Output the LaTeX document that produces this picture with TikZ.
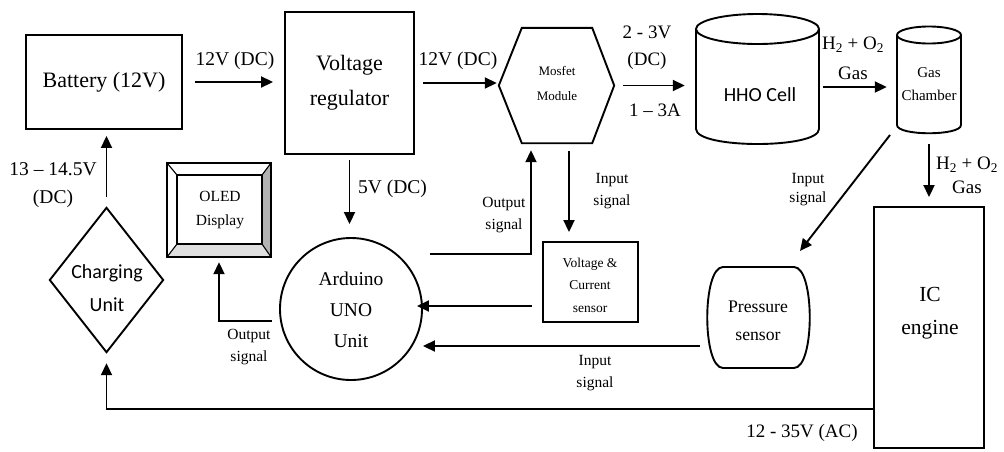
\documentclass[tikz,border=0pt]{standalone}
\usepackage{fontspec}
\setmainfont{Liberation Serif}
\newfontfamily\carl{Carlito}
\usetikzlibrary{arrows.meta,calc}
\newcommand\fsz[2]{\fontsize{#1}{#2}\selectfont}
\begin{document}
\begin{tikzpicture}[x=1pt,y=-1pt,
  box/.style={draw, line width=1.9pt, inner sep=0pt},
  ghost/.style={inner sep=0pt},
  arr/.style={line width=1.9pt, -{Triangle[length=12pt,width=11pt]}},
  ln/.style={line width=1.9pt},
  txt/.style={align=center, inner sep=0pt},
]
\useasboundingbox (0,0) rectangle (1004,451);

% Battery
\node[box, minimum width=156pt, minimum height=94pt, font=\fsz{22}{26}] (bat) at (104,82) {Battery (12V)};
% Voltage regulator
\node[box, minimum width=129pt, minimum height=142pt, align=center, font=\fsz{22}{35}] (vr) at (349.5,83) {Voltage\\regulator};

% Mosfet
\node[ghost, minimum width=115pt, minimum height=115pt] (mos) at (556.5,85.5) {};
\draw[ln] (mos.west) -- ($(mos.north west)+(23,0)$) -- ($(mos.north east)+(-22,0)$) -- (mos.east) -- ($(mos.south east)+(-22,0)$) -- ($(mos.south west)+(23,0)$) -- cycle;
\node[txt, font=\fsz{13}{25}] (most) at (557,83) {Mosfet\\Module};

% HHO cell
\node[ghost, minimum width=123pt, minimum height=130pt] (hho) at (757.5,79) {};
\draw[ln] (757.5,29) ellipse [x radius=61.5, y radius=15];
\draw[ln] (696,29) -- (696,129) .. controls (696,149) and (819,149) .. (819,129) -- (819,29);
\node[txt, font=\carl\fsz{20}{24}] (hhot) at (760,95) {HHO Cell};

% Gas chamber
\node[ghost, minimum width=64pt, minimum height=107pt] (gas) at (929,79.5) {};
\draw[ln] (929,35) ellipse [x radius=32, y radius=8.5];
\draw[ln] (897,35) -- (897,125) .. controls (897,136) and (961,136) .. (961,125) -- (961,35);
\node[txt, font=\fsz{15}{23}] (gast) at (929,84) {Gas\\Chamber};

% OLED
\node[ghost, minimum width=104pt, minimum height=94pt] (oled) at (219,210) {};
\fill[gray!60] (271,163) -- (271,257) -- (262,244) -- (262,175) -- cycle;
\fill[gray!25] (167,257) -- (271,257) -- (262,244) -- (177,244) -- cycle;
\draw[line width=2.2pt] (167,163) rectangle (271,257);
\draw[ln] (177,175) rectangle (262,244);
\draw[line width=1.1pt] (167,163) -- (177,175) (271,163) -- (262,175) (271,257) -- (262,244) (167,257) -- (177,244);
\node[txt, font=\fsz{15.5}{24}] (oledt) at (220,210) {OLED\\Display};

% Charging unit
\node[ghost, minimum width=113pt, minimum height=144pt] (chg) at (106.5,280) {};
\draw[ln] (chg.north) -- (chg.east) -- (chg.south) -- (chg.west) -- cycle;
\node[txt, font=\carl\fsz{20}{33}] (chgt) at (107,288) {Charging\\Unit};

% Arduino
\node[draw, circle, line width=1.9pt, minimum size=142pt, inner sep=0pt] (ard) at (351,309) {};
\node[txt, font=\fsz{19.5}{31}] (ardt) at (351,310) {Arduino\\UNO\\Unit};

% Voltage & current sensor
\node[box, minimum width=95pt, minimum height=80pt] (vs) at (590.5,282) {};
\node[txt, font=\fsz{13.5}{22.5}] (vst) at (590,285) {Voltage \&\\Current\\sensor};

% Pressure sensor
\node[ghost, minimum width=103pt, minimum height=101pt] (ps) at (758.5,317.5) {};
\draw[ln] (723,267) -- (794,267) .. controls (815,267) and (815,368) .. (794,368) -- (723,368) .. controls (702,368) and (702,267) .. (723,267) -- cycle;
\node[txt, font=\fsz{17.7}{28}] (pst) at (758,321) {Pressure\\sensor};

% IC engine
\node[box, minimum width=110pt, minimum height=241pt] (ic) at (929,327.5) {};
\node[txt, font=\fsz{21.5}{33}] (ict) at (930,313) {IC\\engine};

% coordinates for free ends
\coordinate (g1) at (819,87);
\coordinate (a1) at (272,321);
\coordinate (a2) at (430,254);
\coordinate (m1) at ($(mos.south)+(-25.5,0)$);
\coordinate (m2) at ($(mos.south)+(12.5,0)$);
\coordinate (v1) at (532,306);
\coordinate (p1) at (700,346);
\coordinate (g2) at (890,135);
\coordinate (p2) at (800,251);
\coordinate (i1) at (874,409);

% connectors
\draw[arr, shorten <=12pt, shorten >=11pt] (bat.east) -- (bat.east -| vr.west);
\draw[arr, shorten <=8pt, shorten >=2pt] (vr.east) -- (vr.east -| mos.west);
\draw[arr, shorten <=9pt, shorten >=11pt] (mos.east) -- (mos.east -| hho.west);
\draw[arr, shorten <=4pt, shorten >=10pt] (hho.east |- g1) -- (gas.west |- g1);
\draw[arr, shorten <=11pt, shorten >=9pt] (gas.south) -- (gas.south |- ic.north);
\draw[arr, shorten <=5pt, shorten >=13pt] (vr.south) -- (vr.south |- ard.north);
\draw[arr, shorten <=11pt, shorten >=6pt] (chg.north) -- (chg.north |- bat.south);
\draw[arr, shorten >=5pt] (a1) -| (oled.south);
\draw[arr, shorten >=7pt] (a2) -| (m1);
\draw[arr, shorten <=8pt, shorten >=9pt] (m2) -- (m2 |- vs.north);
\draw[arr, shorten >=-6pt] (v1) -- (v1 -| ard.east);
\draw[arr] (p1) -- (p1 -| ard.east);
\draw[arr] (g2) -- (p2);
\draw[arr, shorten >=11pt] (i1) -| (chg.south);

% labels
\node[txt, font=\fsz{19.5}{24}] (l1) at (235,61) {12V (DC)};
\node[txt, font=\fsz{19.5}{24}] (l2) at (458,61) {12V (DC)};
\node[txt, font=\fsz{19.5}{24}, anchor=west] (l3) at (358,189) {5V (DC)};
\node[txt, font=\fsz{19.5}{28}] (l4) at (53,185) {13 -- 14.5V\\(DC)};
\node[txt, font=\fsz{15.5}{22}] (l5) at (249,347) {Output\\signal};
\node[txt, font=\fsz{15.5}{22}] (l6) at (504,215) {Output\\signal};
\node[txt, font=\fsz{15.5}{22}] (l7) at (612,191) {Input\\signal};
\node[txt, font=\fsz{15.5}{19}] (l8) at (808,190) {Input\\signal};
\node[txt, font=\fsz{15.5}{22}] (l9) at (595,373) {Input\\signal};
\node[txt, font=\fsz{19}{27}] (l10) at (647,48) {2 - 3V\\(DC)};
\node[txt, font=\fsz{19}{24}] (l11) at (655,110) {1 -- 3A};
\node[txt, font=\fsz{19}{30}] (l12) at (853,58) {H\textsubscript{2} + O\textsubscript{2}\\Gas};
\node[txt, font=\fsz{19}{24}] (l13) at (967,175) {H\textsubscript{2} + O\textsubscript{2}\\Gas};
\node[txt, font=\fsz{19}{24}] (l14) at (802,433) {12 - 35V (AC)};
\end{tikzpicture}
\end{document}
